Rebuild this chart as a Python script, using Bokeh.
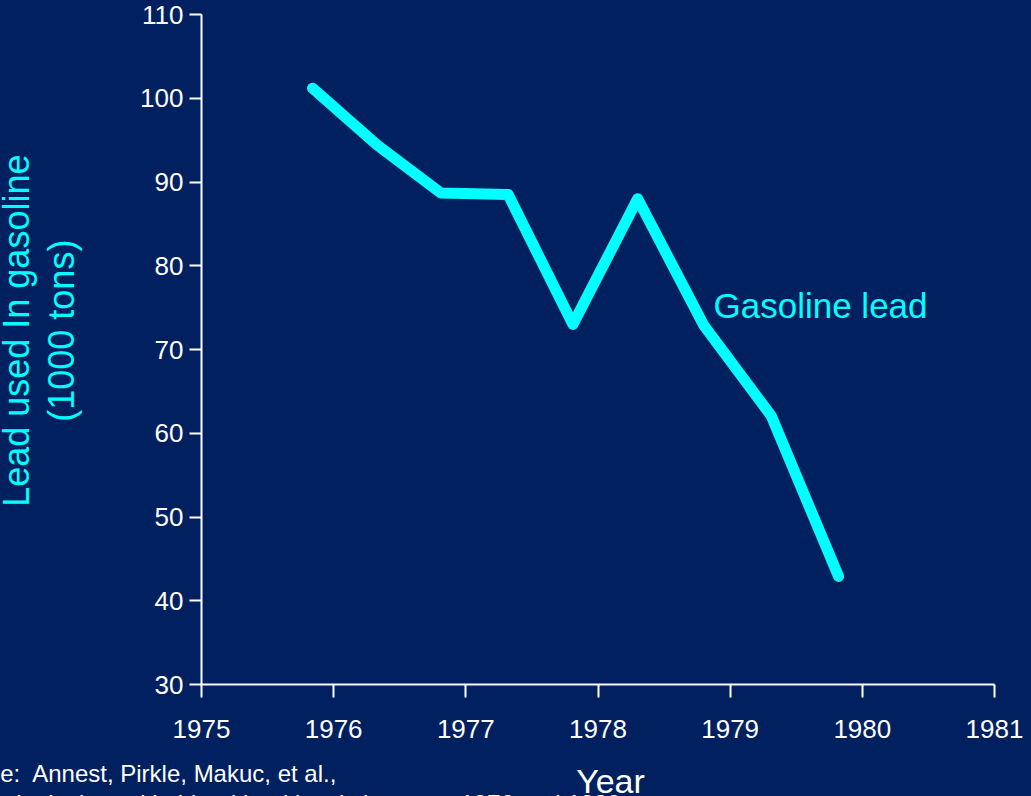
from math import pi
from bokeh.plotting import figure
from bokeh.layouts import row, column
from bokeh.models import Label, Range1d, FixedTicker
from bokeh.embed import file_html
from bokeh.resources import INLINE

# ---- data ----
years = [1975.84, 1976.33, 1976.81, 1977.32, 1977.81, 1978.30, 1978.80, 1979.31, 1979.82]
lead_tons = [101.2, 94.4, 88.7, 88.5, 73.0, 88.0, 72.9, 62.1, 42.9]
x_ticks = [1975, 1976, 1977, 1978, 1979, 1980, 1981]
y_ticks = [30, 40, 50, 60, 70, 80, 90, 100, 110]
series_name = "Gasoline lead"
y_title = ["Lead used In gasoline", "(1000 tons)"]
x_title = "Year"
source_lines = ["Source:\u00a0 Annest, Pirkle, Makuc, et al.,",
                "Chronological trend in blood lead levels between 1976 and 1980"]

BG = "#002060"
CYAN = "#00FFFF"
FONT = "Liberation Sans"

W, H = 1031, 796
LEFT_W = 100
MAIN_H = 748
FOOT_H = H - MAIN_H


def style_blank(f):
    f.background_fill_color = BG
    f.border_fill_color = None
    f.outline_line_color = None
    f.grid.visible = False
    f.styles = {"background-color": BG}


# ---- main chart ----
p = figure(width=W - LEFT_W, height=MAIN_H, output_backend="svg", toolbar_location=None,
           x_range=Range1d(1975, 1981), y_range=Range1d(30, 110),
           min_border_left=201 - LEFT_W, min_border_right=37,
           min_border_top=14, min_border_bottom=MAIN_H - 684)
style_blank(p)

p.line(years, lead_tons, line_color=CYAN, line_width=11, line_cap="round", line_join="round")

for ax in (p.xaxis[0], p.yaxis[0]):
    ax.axis_line_color = "white"
    ax.axis_line_width = 2
    ax.major_tick_line_color = "white"
    ax.major_tick_line_width = 2
    ax.major_tick_in = 0
    ax.minor_tick_line_color = None
    ax.major_label_text_color = "white"
    ax.major_label_text_font = FONT
    ax.major_label_text_font_size = "26px"

p.xaxis[0].ticker = FixedTicker(ticks=x_ticks)
p.xaxis[0].major_tick_out = 13
p.xaxis[0].major_label_standoff = 22
p.yaxis[0].ticker = FixedTicker(ticks=y_ticks)
p.yaxis[0].major_tick_out = 12
p.yaxis[0].major_label_standoff = 6

p.add_layout(Label(x=512, y=379, x_units="screen", y_units="screen", text=series_name,
                   text_font=FONT, text_font_size="35px", text_color=CYAN,
                   text_align="left", text_baseline="middle"))

# ---- left strip: y-axis title ----
left = figure(width=LEFT_W, height=MAIN_H, output_backend="svg", toolbar_location=None,
              x_range=Range1d(0, LEFT_W), y_range=Range1d(0, MAIN_H),
              x_axis_type=None, y_axis_type=None, min_border=0)
style_blank(left)
for txt, cx in zip(y_title, [15.5, 61]):
    left.add_layout(Label(x=cx, y=MAIN_H - 353, text=txt, angle=pi / 2,
                          text_font=FONT, text_font_size="36px", text_color=CYAN,
                          text_align="center", text_baseline="middle"))

# ---- footer strip: x-axis title and source ----
foot = figure(width=W, height=FOOT_H, output_backend="svg", toolbar_location=None,
              x_range=Range1d(0, W), y_range=Range1d(0, FOOT_H),
              x_axis_type=None, y_axis_type=None, min_border=0)
style_blank(foot)
foot.add_layout(Label(x=610, y=H - 780, text=x_title, text_font=FONT, text_font_size="34px",
                      text_color="white", text_align="center", text_baseline="middle"))
foot.add_layout(Label(x=-63, y=H - 773, text=source_lines[0], text_font=FONT,
                      text_font_size="24px", text_color="white",
                      text_align="left", text_baseline="middle"))
foot.add_layout(Label(x=-63, y=H - 803, text=source_lines[1], text_font=FONT,
                      text_font_size="24px", text_color="white",
                      text_align="left", text_baseline="middle"))

layout = column(row(left, p, styles={"background-color": BG}), foot,
                styles={"background-color": BG})

html = file_html(layout, INLINE)
html = html.replace("</head>", "<style>html,body{background:%s !important;margin:0;overflow:hidden;}</style></head>" % BG, 1)
open("out.html", "w").write(html)
